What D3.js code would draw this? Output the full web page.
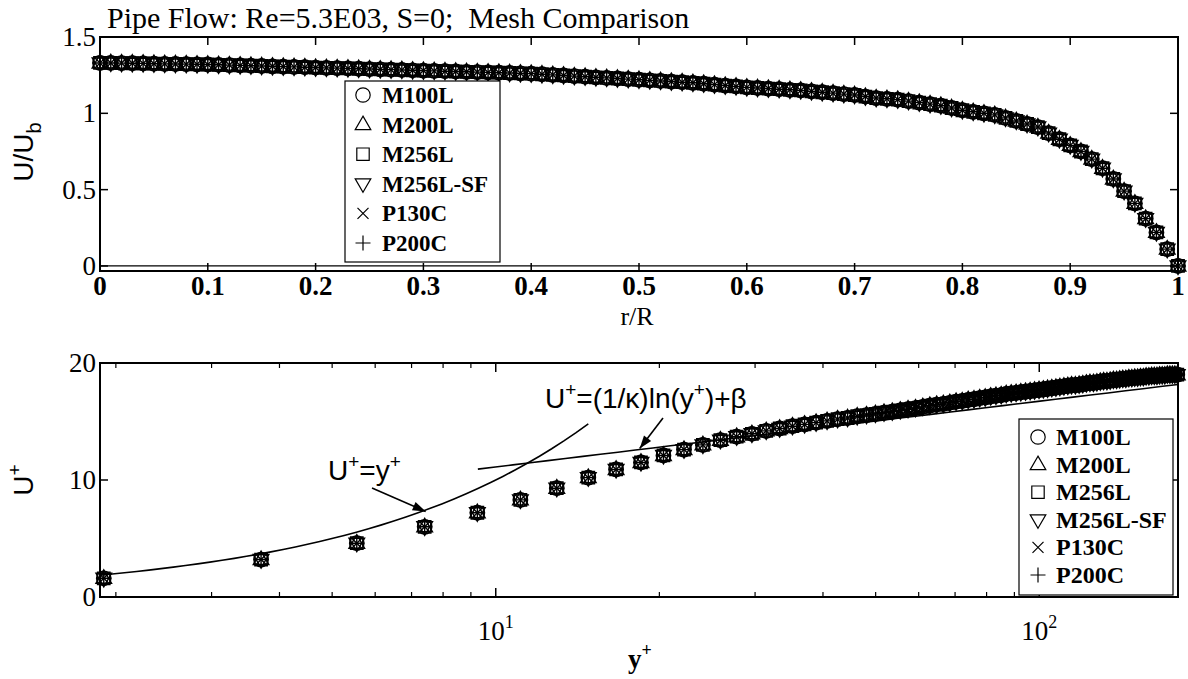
<!DOCTYPE html>
<html><head><meta charset="utf-8">
<script src="https://cdn.jsdelivr.net/npm/d3@7"></script>
<style>body{margin:0;background:#fff}svg{display:block}</style>
</head><body>
<svg id="chart" width="1188" height="679"></svg>
<script>
// ---------------- DATA ----------------
const titleText = "Pipe Flow: Re=5.3E03, S=0;  Mesh Comparison";
const seriesNames = ["M100L", "M200L", "M256L", "M256L-SF", "P130C", "P200C"];

// top panel: r/R and U/Ub (all meshes overlap)
const rPos = [0.00,0.01,0.02,0.03,0.04,0.05,0.06,0.07,0.08,0.09,
  0.10,0.11,0.12,0.13,0.14,0.15,0.16,0.17,0.18,0.19,
  0.20,0.21,0.22,0.23,0.24,0.25,0.26,0.27,0.28,0.29,
  0.30,0.31,0.32,0.33,0.34,0.35,0.36,0.37,0.38,0.39,
  0.40,0.41,0.42,0.43,0.44,0.45,0.46,0.47,0.48,0.49,
  0.50,0.51,0.52,0.53,0.54,0.55,0.56,0.57,0.58,0.59,
  0.60,0.61,0.62,0.63,0.64,0.65,0.66,0.67,0.68,0.69,
  0.70,0.71,0.72,0.73,0.74,0.75,0.76,0.77,0.78,0.79,
  0.80,0.81,0.82,0.83,0.84,0.85,0.86,0.87,0.88,0.89,
  0.90,0.91,0.92,0.93,0.94,0.95,0.96,0.97,0.98,0.99,1.00];
const uRatio = [1.330,1.330,1.329,1.328,1.327,1.325,1.324,1.323,1.322,1.321,
  1.320,1.318,1.316,1.314,1.312,1.310,1.308,1.306,1.304,1.302,
  1.300,1.298,1.296,1.294,1.292,1.290,1.288,1.286,1.284,1.282,
  1.280,1.278,1.276,1.274,1.272,1.270,1.268,1.266,1.264,1.262,
  1.260,1.256,1.252,1.248,1.244,1.240,1.236,1.232,1.228,1.224,
  1.220,1.216,1.212,1.208,1.204,1.200,1.194,1.188,1.182,1.176,
  1.170,1.166,1.162,1.158,1.154,1.150,1.144,1.138,1.132,1.126,
  1.120,1.110,1.100,1.095,1.090,1.080,1.070,1.060,1.050,1.035,
  1.020,1.010,1.000,0.990,0.970,0.950,0.930,0.910,0.870,0.830,
  0.790,0.750,0.700,0.640,0.570,0.490,0.410,0.310,0.220,0.110,0.000];

// bottom panel: y+ and U+
const yPlus = [1.9,3.7,5.55,7.4,9.25,11.1,12.95,14.8,16.65,18.5,20.35,22.2,24.05,25.9,
  27.75,29.6,31.45,33.3,35.15,37.0,38.85,40.7,42.55,44.4,46.25,48.1,49.95,51.8,
  53.65,55.5,57.35,59.2,61.05,62.9,64.75,66.6,68.45,70.3,72.15,74.0,75.85,77.7,
  79.55,81.4,83.25,85.1,86.95,88.8,90.65,92.5,94.35,96.2,98.05,99.9,101.75,103.6,
  105.45,107.3,109.15,111.0,112.85,114.7,116.55,118.4,120.25,122.1,123.95,125.8,127.65,129.5,
  131.35,133.2,135.05,136.9,138.75,140.6,142.45,144.3,146.15,148.0,149.85,151.7,153.55,155.4,
  157.25,159.1,160.95,162.8,164.65,166.5,168.35,170.2,172.05,173.9,175.75,177.6,179.45];
const uPlus = [1.6,3.2,4.6,6.0,7.2,8.3,9.3,10.2,10.9,11.5,12.1,12.6,13.0,13.4,
  13.7,13.95,14.2,14.4,14.6,14.75,14.9,15.05,15.2,15.3,15.45,15.55,15.65,15.75,
  15.85,15.95,16.05,16.15,16.25,16.35,16.45,16.5,16.6,16.7,16.75,16.85,16.9,17.0,
  17.05,17.15,17.2,17.25,17.35,17.4,17.45,17.5,17.55,17.6,17.65,17.7,17.75,17.8,
  17.85,17.9,17.95,18.0,18.05,18.1,18.1,18.15,18.2,18.25,18.3,18.3,18.35,18.4,
  18.45,18.45,18.5,18.55,18.55,18.6,18.65,18.65,18.7,18.7,18.75,18.75,18.8,18.8,
  18.85,18.85,18.9,18.9,18.9,18.95,18.95,18.95,19.0,19.0,19.0,19.0,19.0];

// reference laws
const kappa = 0.41, beta = 5.5;
const viscousRange = [1.87, 14.8];
const logLawRange = [9.27, 180];

// tick labels
const topXTicks = [0,0.1,0.2,0.3,0.4,0.5,0.6,0.7,0.8,0.9,1];
const topYTicks = [0,0.5,1,1.5];
const botYTicks = [0,10,20];
const botXMajor = [10,100];
const botXMinor = [2,3,4,5,6,7,8,9,20,30,40,50,60,70,80,90];

// ---------------- DRAW ----------------
const svg = d3.select("#chart");
const SERIF = "'Liberation Serif','Times New Roman',serif";
const SANS = "'Liberation Sans',Arial,sans-serif";

const L = 100, R = 1178;
const xT = d3.scaleLinear().domain([0,1]).range([L,R]);
const yT = d3.scaleLinear().domain([-0.033,1.5]).range([271,37]);
const xB = d3.scaleLog().domain([1.87,180]).range([L,R]);
const yB = d3.scaleLinear().domain([0,20]).range([597,363]);

function markerPath(kind){
  switch(kind){
    case 1: return "M0,-8.5L7.8,5L-7.8,5Z";
    case 2: return "M-6.2,-6.2H6.2V6.2H-6.2Z";
    case 3: return "M0,8.5L7.8,-5L-7.8,-5Z";
    case 4: return "M-5.5,-5.5L5.5,5.5M-5.5,5.5L5.5,-5.5";
    case 5: return "M-7.5,0H7.5M0,-7.5V7.5";
  }
}
function drawMarker(g, kind, x, y, sw){
  sw = sw || 1.4;
  if(kind===0){
    g.append("circle").attr("cx",x).attr("cy",y).attr("r",7.2)
      .attr("fill","none").attr("stroke","#000").attr("stroke-width",sw);
  } else {
    g.append("path").attr("d",markerPath(kind)).attr("transform",`translate(${x},${y})`)
      .attr("fill","none").attr("stroke","#000").attr("stroke-width",sw);
  }
}

// Title
svg.append("text").attr("x",107).attr("y",28).attr("font-family",SERIF).attr("font-size",30)
  .style("white-space","pre").text(titleText);

// ===== TOP PANEL =====
const topG = svg.append("g");
topG.append("line").attr("x1",L).attr("x2",R).attr("y1",yT(0)).attr("y2",yT(0))
  .attr("stroke","#000").attr("stroke-width",1.3);
const tTicks = topG.append("g");
topXTicks.forEach(t=>{
  tTicks.append("line").attr("x1",xT(t)).attr("x2",xT(t)).attr("y1",271).attr("y2",263).attr("stroke","#000").attr("stroke-width",1.5);
  tTicks.append("line").attr("x1",xT(t)).attr("x2",xT(t)).attr("y1",37).attr("y2",45).attr("stroke","#000").attr("stroke-width",1.5);
});
topYTicks.forEach(t=>{
  tTicks.append("line").attr("x1",L).attr("x2",L+8).attr("y1",yT(t)).attr("y2",yT(t)).attr("stroke","#000").attr("stroke-width",1.5);
  tTicks.append("line").attr("x1",R).attr("x2",R-8).attr("y1",yT(t)).attr("y2",yT(t)).attr("stroke","#000").attr("stroke-width",1.5);
});
const topMarks = topG.append("g");
seriesNames.forEach((s,k)=>{
  const n = Math.min(rPos.length, uRatio.length);
  for(let i=0;i<n;i++) drawMarker(topMarks, k, xT(rPos[i]), yT(uRatio[i]));
});
topG.append("rect").attr("x",L).attr("y",37).attr("width",R-L).attr("height",271-37)
  .attr("fill","none").attr("stroke","#000").attr("stroke-width",2);
topXTicks.forEach(t=>{
  topG.append("text").attr("x",xT(t)).attr("y",295).attr("text-anchor","middle")
    .attr("font-family",SERIF).attr("font-size",27).attr("font-weight","bold")
    .text(t===0?"0":t===1?"1":d3.format(".1f")(t));
});
topYTicks.forEach(t=>{
  topG.append("text").attr("x",96).attr("y",yT(t)+9).attr("text-anchor","end")
    .attr("font-family",SERIF).attr("font-size",27).text(t===0?"0":t===1?"1":String(t));
});
topG.append("text").attr("x",637).attr("y",325).attr("text-anchor","middle")
  .attr("font-family",SERIF).attr("font-size",26).text("r/R");
const yl = topG.append("text").attr("transform","translate(33,152) rotate(-90)").attr("text-anchor","middle")
  .attr("font-family",SANS).attr("font-size",28);
yl.append("tspan").text("U/U");
yl.append("tspan").attr("dy",8).attr("font-size",20).text("b");

const lg1 = topG.append("g");
lg1.append("rect").attr("x",345).attr("y",81).attr("width",155).attr("height",181)
  .attr("fill","#fff").attr("stroke","#000").attr("stroke-width",1.2);
seriesNames.forEach((s,k)=>{
  const cy = 95 + k*29.6;
  drawMarker(lg1,k,363,cy,1.2);
  lg1.append("text").attr("x",382).attr("y",cy+8).attr("font-family",SERIF).attr("font-size",23)
    .attr("font-weight","bold").text(s);
});

// ===== BOTTOM PANEL =====
const botG = svg.append("g");
const bTicks = botG.append("g");
botXMinor.forEach(t=>{
  bTicks.append("line").attr("x1",xB(t)).attr("x2",xB(t)).attr("y1",597).attr("y2",592).attr("stroke","#000").attr("stroke-width",1.2);
  bTicks.append("line").attr("x1",xB(t)).attr("x2",xB(t)).attr("y1",363).attr("y2",368).attr("stroke","#000").attr("stroke-width",1.2);
});
botXMajor.forEach(t=>{
  bTicks.append("line").attr("x1",xB(t)).attr("x2",xB(t)).attr("y1",597).attr("y2",588).attr("stroke","#000").attr("stroke-width",1.5);
  bTicks.append("line").attr("x1",xB(t)).attr("x2",xB(t)).attr("y1",363).attr("y2",372).attr("stroke","#000").attr("stroke-width",1.5);
});
botYTicks.forEach(t=>{
  bTicks.append("line").attr("x1",L).attr("x2",L+8).attr("y1",yB(t)).attr("y2",yB(t)).attr("stroke","#000").attr("stroke-width",1.5);
  bTicks.append("line").attr("x1",R).attr("x2",R-8).attr("y1",yB(t)).attr("y2",yB(t)).attr("stroke","#000").attr("stroke-width",1.5);
});

const visc = d3.range(0,41).map(i=>viscousRange[0]*Math.pow(viscousRange[1]/viscousRange[0], i/40));
botG.append("path").datum(visc)
  .attr("d", d3.line().x(d=>xB(d)).y(d=>yB(d)))
  .attr("fill","none").attr("stroke","#000").attr("stroke-width",1.6);
const logl = d3.range(0,41).map(i=>logLawRange[0]*Math.pow(logLawRange[1]/logLawRange[0], i/40));
botG.append("path").datum(logl)
  .attr("d", d3.line().x(d=>xB(d)).y(d=>yB(Math.log(d)/kappa+beta)))
  .attr("fill","none").attr("stroke","#000").attr("stroke-width",1.6);

const botMarks = botG.append("g");
seriesNames.forEach((s,k)=>{
  const n = Math.min(yPlus.length, uPlus.length);
  for(let i=0;i<n;i++) drawMarker(botMarks, k, xB(yPlus[i]), yB(uPlus[i]));
});

botG.append("rect").attr("x",L).attr("y",363).attr("width",R-L).attr("height",597-363)
  .attr("fill","none").attr("stroke","#000").attr("stroke-width",2);

function arrow(g,x1,y1,x2,y2){
  g.append("line").attr("x1",x1).attr("y1",y1).attr("x2",x2).attr("y2",y2).attr("stroke","#000").attr("stroke-width",1.6);
  const a = Math.atan2(y2-y1,x2-x1), len=13, w=4.5;
  const bx = x2-len*Math.cos(a), by = y2-len*Math.sin(a);
  const px = -Math.sin(a)*w, py = Math.cos(a)*w;
  g.append("path").attr("d",`M${x2},${y2}L${bx+px},${by+py}L${bx-px},${by-py}Z`).attr("fill","#000");
}
const ann = botG.append("g");
const t1 = ann.append("text").attr("x",328).attr("y",480).attr("font-family",SANS).attr("font-size",28);
t1.append("tspan").text("U");
t1.append("tspan").attr("dy",-12).attr("font-size",19).text("+");
t1.append("tspan").attr("dy",12).text("=y");
t1.append("tspan").attr("dy",-12).attr("font-size",19).text("+");
arrow(ann,372,488,xB(7.4)+1,yB(7.4)+1);

const t2 = ann.append("text").attr("x",545).attr("y",408).attr("font-family",SANS).attr("font-size",28);
t2.append("tspan").text("U");
t2.append("tspan").attr("dy",-12).attr("font-size",19).text("+");
t2.append("tspan").attr("dy",12).text("=(1/\u03BA)ln(y");
t2.append("tspan").attr("dy",-12).attr("font-size",19).text("+");
t2.append("tspan").attr("dy",12).text(")+\u03B2");
arrow(ann,663,418,xB(18.4),yB(Math.log(18.4)/kappa+beta)-1);

botYTicks.forEach(t=>{
  botG.append("text").attr("x",96).attr("y",yB(t)+9).attr("text-anchor","end")
    .attr("font-family",SERIF).attr("font-size",27).text(String(t));
});
botXMajor.forEach((t,i)=>{
  const tx = botG.append("text").attr("x",xB(t)).attr("y",640).attr("text-anchor","middle")
    .attr("font-family",SERIF).attr("font-size",27);
  tx.append("tspan").text("10");
  tx.append("tspan").attr("dy",-12).attr("font-size",18).text(String(i+1));
});
const xl = botG.append("text").attr("x",640).attr("y",668).attr("text-anchor","middle")
  .attr("font-family",SERIF).attr("font-size",27).attr("font-weight","bold");
xl.append("tspan").text("y");
xl.append("tspan").attr("dy",-12).attr("font-size",18).text("+");
const yl2 = botG.append("text").attr("transform","translate(33,480) rotate(-90)").attr("text-anchor","middle")
  .attr("font-family",SANS).attr("font-size",28);
yl2.append("tspan").text("U");
yl2.append("tspan").attr("dy",-12).attr("font-size",19).text("+");

const lg2 = botG.append("g");
lg2.append("rect").attr("x",1019).attr("y",419).attr("width",154).attr("height",176)
  .attr("fill","#fff").attr("stroke","#000").attr("stroke-width",1.2);
seriesNames.forEach((s,k)=>{
  const cy = 437 + k*27.6;
  drawMarker(lg2,k,1038,cy,1.2);
  lg2.append("text").attr("x",1056).attr("y",cy+8).attr("font-family",SERIF).attr("font-size",24)
    .attr("font-weight","bold").text(s);
});
</script>
</body></html>
